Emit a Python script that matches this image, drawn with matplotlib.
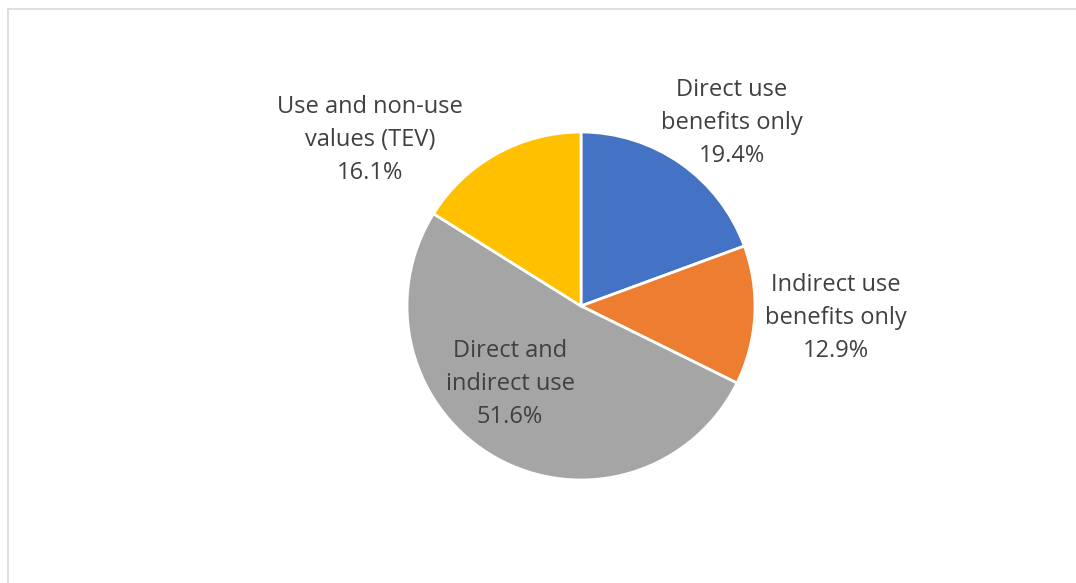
import matplotlib
matplotlib.use("Agg")
import matplotlib.pyplot as plt
from matplotlib.lines import Line2D

categories = ["Direct use\nbenefits only", "Indirect use\nbenefits only",
              "Direct and\nindirect use", "Use and non-use\nvalues (TEV)"]
values = [19.4, 12.9, 51.6, 16.1]
colors = ["#4472C4", "#ED7D31", "#A5A5A5", "#FFC000"]

W, H = 1076, 583
fig = plt.figure(figsize=(W / 100, H / 100), dpi=100)
ax = fig.add_axes([0, 0, 1, 1])

cx, cy, r = 581, H - 306, 174
ax.pie(values, colors=colors, startangle=90, counterclock=False,
       center=(cx, cy), radius=r, frame=True,
       wedgeprops=dict(edgecolor="white", linewidth=2))
ax.set_xlim(0, W)
ax.set_ylim(0, H)
ax.set_aspect("equal")
ax.axis("off")

label_pos = [(732, 123), (836, 318), (510, 384), (370, 140)]
for cat, v, (x, y) in zip(categories, values, label_pos):
    ax.text(x, H - y, f"{cat}\n{v:.1f}%", ha="center", va="center",
            fontsize=17, color="#404040", family="Open Sans",
            linespacing=1.52)

# chart frame (left & top visible)
fig.add_artist(Line2D([7.5 / W, 7.5 / W], [0, 1 - 9 / H], transform=fig.transFigure,
                      color="#d9d9d9", linewidth=1.2))
fig.add_artist(Line2D([7.5 / W, 1], [1 - 9 / H, 1 - 9 / H], transform=fig.transFigure,
                      color="#d9d9d9", linewidth=1.2))

fig.savefig("out.png", dpi=100, facecolor="white")
